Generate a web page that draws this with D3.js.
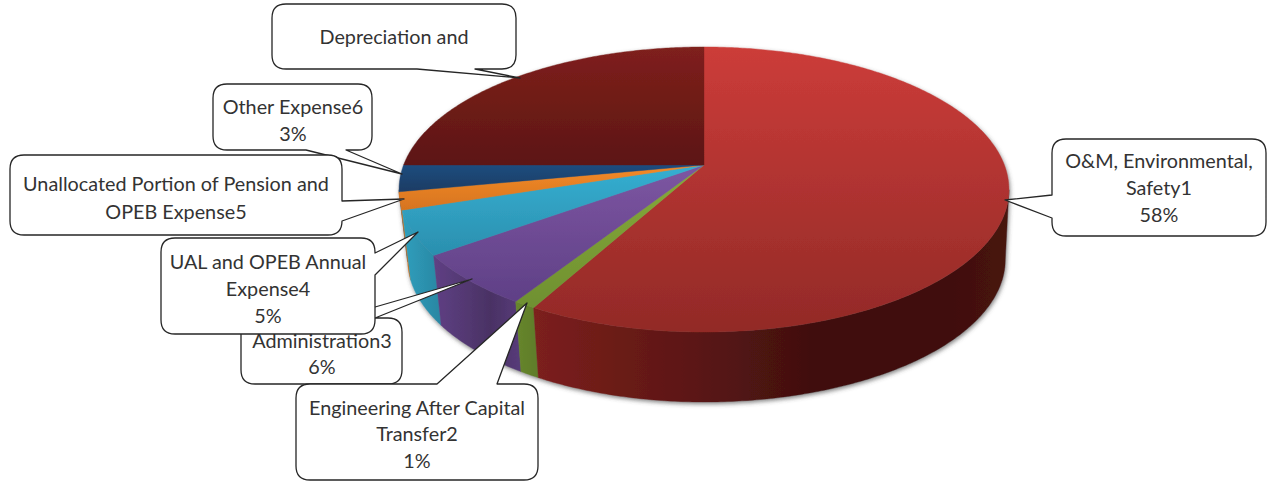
<!DOCTYPE html>
<html>
<head>
<meta charset="utf-8">
<script src="https://d3js.org/d3.v7.min.js"></script>
<style>
html,body{margin:0;padding:0;background:#fff;}
svg{display:block;}
text{font-family:"Lato",sans-serif;font-size:19.8px;fill:#333;text-anchor:middle;dominant-baseline:central;}
</style>
</head>
<body>
<svg id="chart" width="1273" height="481"></svg>
<script>
// Slice data, clockwise from twelve o'clock
const categories = ["O&M, Environmental, Safety1","Engineering After Capital Transfer2","Administration3","UAL and OPEB Annual Expense4","Unallocated Portion of Pension and OPEB Expense5","Other Expense6","Depreciation and"];
const values = [58,1,6,5,2,3,25];
const topLight = ["#cc3c39","#86aa3b","#7d56a2","#35afd2","#f48b28","#1f4c7e","#7f201c"];
const topDark  = ["#922a27","#6f9030","#5f4086","#2b8fae","#d6741f","#1a3c64","#5c1612"];
const wallStops = [
  [[0,"#7c201c"],[.35,"#5a1614"],[.6,"#3f0f0f"],[.85,"#3f0f0e"],[1,"#481311"]],
  [[0,"#67862d"],[1,"#5f7c2a"]],
  [[0,"#5f4084"],[.65,"#4a3264"],[1,"#573b7a"]],
  [[0,"#2f9fbd"],[1,"#2a86a2"]],
  [[0,"#d77a22"],[1,"#c46f1e"]],
  [[0,"#1a3c64"],[1,"#1a3c64"]],
  [[0,"#5c1612"],[1,"#5c1612"]]
];

// Projected disc: apex is the disc centre, q gives the perspective foreshortening
const apex = {x:704, y:165};
const disc = {w:300.4, h:138.3, q:0.172, depth:70, baseLeft:0.972, baseRight:0.988};
const project = a => {
  const X = Math.sin(a), Y = Math.cos(a), d = 1 + disc.q * Y;
  return [apex.x + disc.w * X / d, apex.y - disc.h * Y / d];
};
const projectBase = a => {
  const [x,y] = project(a);
  const s = x < apex.x ? disc.baseLeft : disc.baseRight;
  return [apex.x + (x - apex.x) * s, y + disc.depth];
};

const svg = d3.select("#chart");
const defs = svg.append("defs");

const shadow = defs.append("filter").attr("id","pieShadow")
  .attr("x","-5%").attr("y","-5%").attr("width","110%").attr("height","115%");
shadow.append("feDropShadow").attr("dx",1).attr("dy",2).attr("stdDeviation",2)
  .attr("flood-color","#444").attr("flood-opacity",0.65);

const arcs = d3.pie().sort(null).value(d => d).startAngle(0).endAngle(2*Math.PI)(values);
const line = d3.line();
const sampleAngles = (a0,a1) => {
  const n = Math.max(2, Math.ceil((a1-a0)/0.01));
  return d3.range(n+1).map(i => a0 + (a1-a0)*i/n);
};

arcs.forEach((arc,i) => {
  const g = defs.append("linearGradient").attr("id","top"+i)
    .attr("x1",0).attr("y1",0).attr("x2",0).attr("y2",1);
  g.append("stop").attr("offset",0).attr("stop-color",topLight[i]);
  g.append("stop").attr("offset",1).attr("stop-color",topDark[i]);
  const w = defs.append("linearGradient").attr("id","wall"+i)
    .attr("x1",0).attr("y1",0).attr("x2",1).attr("y2",0);
  wallStops[i].forEach(s => w.append("stop").attr("offset",s[0]).attr("stop-color",s[1]));
});

const pie = svg.append("g").attr("filter","url(#pieShadow)");

// Outer wall between the two widest points of the rim, painted from the sides toward the front
const near0 = 1.745, near1 = 2*Math.PI*0.7222;
const walls = arcs.map((arc,i) => ({i,
    a0:Math.max(arc.startAngle,near0), a1:Math.min(arc.endAngle,near1)}))
  .filter(d => d.a1 > d.a0);
pie.selectAll("path.wall").data(walls.slice().reverse()).join("path")
  .attr("class","wall")
  .attr("fill",d => `url(#wall${d.i})`)
  .attr("stroke",d => `url(#wall${d.i})`).attr("stroke-width",0.4)
  .attr("d",d => {
    const as = sampleAngles(d.a0,d.a1);
    return line(as.map(project).concat(as.slice().reverse().map(projectBase))) + "Z";
  });

// Top face of each slice
pie.selectAll("path.face").data(arcs).join("path")
  .attr("class","face")
  .attr("fill",(d,i) => `url(#top${i})`)
  .attr("stroke",(d,i) => `url(#top${i})`).attr("stroke-width",0.4)
  .attr("d",d => line([[apex.x,apex.y]].concat(sampleAngles(d.startAngle,d.endAngle).map(project))) + "Z");

// Callout boxes: rectangle, the side the pointer leaves from, its two base points and its tip
const callouts = [
  {box:[272,4,516,69], side:"bottom", base:[417,475], tip:[520,78], cx:394, ys:[36], text:["Depreciation and"]},
  {box:[213,84,372,150], side:"bottom", base:[306,346], tip:[402,174], cx:293, ys:[106,133], text:["Other Expense6","3%"]},
  {box:[10,155,342,235], side:"right", base:[201,221], tip:[404,199], cx:176, ys:[183,211], text:["Unallocated Portion of Pension and","OPEB Expense5"]},
  {box:[241,318,402,384], side:"top", base:[337,375], tip:[472,279], cx:322, ys:[340,366], text:["Administration3","6%"]},
  {box:[161,238,375,334], side:"right", base:[253,275], tip:[418,232], cx:268, ys:[261,288,315], text:["UAL and OPEB Annual","Expense4","5%"]},
  {box:[296,384,538,480], side:"top", base:[437,497], tip:[527,303], cx:417, ys:[407,433,460], text:["Engineering After Capital","Transfer2","1%"]},
  {box:[1052,139,1266,236], side:"left", base:[195,218], tip:[1005,200], cx:1159, ys:[160,187,214], text:["O&M, Environmental,","Safety1","58%"]}
];
const cornerRadius = 14;

function calloutPath(c){
  const [x0,y0,x1,y1] = c.box, r = cornerRadius, p = d3.path();
  const [b0,b1] = c.base, [tx,ty] = c.tip;
  p.moveTo(x0+r,y0);
  if(c.side==="top"){ p.lineTo(b0,y0); p.lineTo(tx,ty); p.lineTo(b1,y0); }
  p.lineTo(x1-r,y0); p.quadraticCurveTo(x1,y0,x1,y0+r);
  if(c.side==="right"){ p.lineTo(x1,b0); p.lineTo(tx,ty); p.lineTo(x1,b1); }
  p.lineTo(x1,y1-r); p.quadraticCurveTo(x1,y1,x1-r,y1);
  if(c.side==="bottom"){ p.lineTo(b1,y1); p.lineTo(tx,ty); p.lineTo(b0,y1); }
  p.lineTo(x0+r,y1); p.quadraticCurveTo(x0,y1,x0,y1-r);
  if(c.side==="left"){ p.lineTo(x0,b1); p.lineTo(tx,ty); p.lineTo(x0,b0); }
  p.lineTo(x0,y0+r); p.quadraticCurveTo(x0,y0,x0+r,y0);
  p.closePath();
  return p.toString();
}

const labels = svg.selectAll("g.callout").data(callouts).join("g").attr("class","callout");
labels.append("path").attr("d",calloutPath)
  .attr("fill","#fff").attr("stroke","#262626").attr("stroke-width",1.3).attr("stroke-linejoin","round");
labels.each(function(c){
  d3.select(this).selectAll("text").data(c.text).join("text")
    .attr("x",c.cx).attr("y",(d,i) => c.ys[i]).text(d => d);
});
</script>
</body>
</html>
